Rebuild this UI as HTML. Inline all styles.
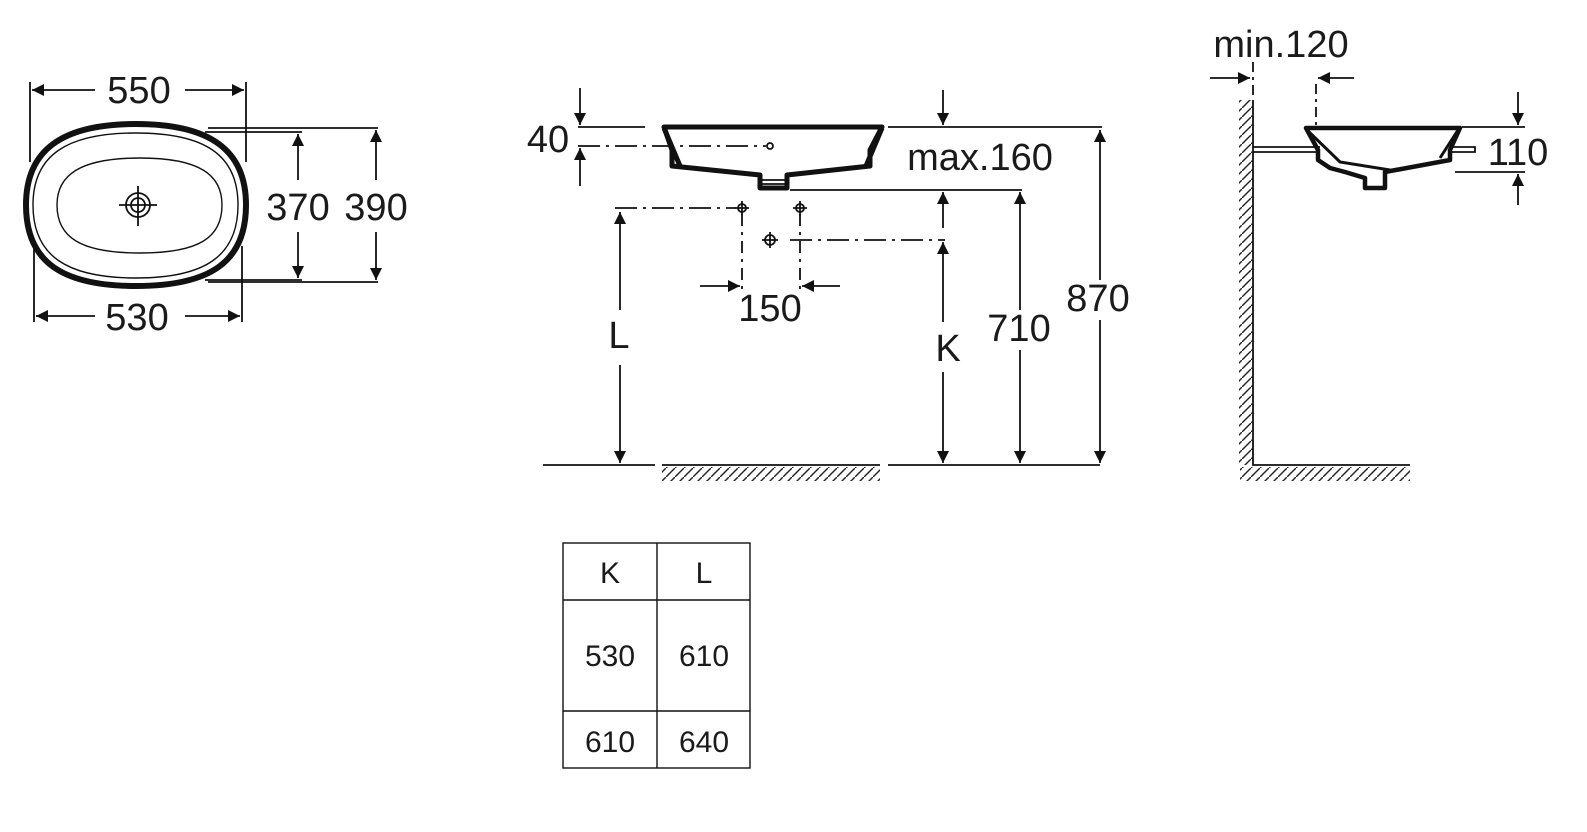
<!DOCTYPE html>
<html><head><style>
html,body{margin:0;padding:0;background:#fff}
svg{display:block}
text{font-family:"Liberation Sans",Arial,sans-serif;fill:#1a1a1a}
</style></head><body>
<svg width="1587" height="832" viewBox="0 0 1587 832" xmlns="http://www.w3.org/2000/svg">
<defs>
<marker id="a" viewBox="0 0 10 10" refX="10" refY="5" markerWidth="20" markerHeight="12" markerUnits="userSpaceOnUse" orient="auto"><path d="M0,0L10,5L0,10z" fill="#111"/></marker>
<pattern id="h" width="9" height="9" patternUnits="userSpaceOnUse"><path d="M0,9L9,0" stroke="#222" stroke-width="1.4"/></pattern>
</defs>
<g stroke="#111" fill="none" stroke-width="1.8">
<!-- top view -->
<path d="M136,124 C210,124 246,150 246,205 C246,262 210,286 136,286 C62,286 26,262 26,205 C26,150 62,124 136,124Z" stroke-width="6"/>
<path d="M136,133 C205,133 238,155 238,205 C238,256 205,278 136,278 C67,278 33,256 33,205 C33,155 67,133 136,133Z" stroke-width="1.4"/>
<path d="M140,158 C200,158 222,175 222,205 C222,237 200,253 140,253 C80,253 57,237 57,205 C57,175 80,158 140,158Z" stroke-width="1.4"/>
<circle cx="138" cy="205" r="12"/><circle cx="138" cy="205" r="7"/>
<path d="M119,205H157M138,186V226"/>
<path d="M30,82V162M246,82V162M34,246V322M242,246V322"/>
<path d="M95,90H32" marker-end="url(#a)"/><path d="M185,90H244" marker-end="url(#a)"/>
<path d="M95,316H36" marker-end="url(#a)"/><path d="M185,316H240" marker-end="url(#a)"/>
<path d="M208,128H378M208,282H378M205,132H302M205,280H302"/>
<path d="M298,180V134" marker-end="url(#a)"/><path d="M298,232V278" marker-end="url(#a)"/>
<path d="M376,180V130" marker-end="url(#a)"/><path d="M376,232V280" marker-end="url(#a)"/>
<!-- front view -->
<path d="M578,127H645M888,127H1102M790,190H1022"/>
<path d="M580,88V125" marker-end="url(#a)"/><path d="M580,186V148" marker-end="url(#a)"/>
<path d="M578,146H766" stroke-dasharray="22,6,3,6"/><circle cx="770" cy="146" r="3"/>
<path d="M664,127H882L870,150V166L787,175V188H760V175L672,166V150Z" stroke-width="5" stroke-linejoin="round"/>
<path d="M664,128L680,166M882,128L866,166" stroke-width="5"/>
<path d="M762,180H786M762,184H786"/>
<path d="M943,90V125" marker-end="url(#a)"/>
<path d="M1100,280V130" marker-end="url(#a)"/><path d="M1100,320V463" marker-end="url(#a)"/>
<path d="M1020,310V192" marker-end="url(#a)"/><path d="M1020,350V463" marker-end="url(#a)"/>
<path d="M943,228V192" marker-end="url(#a)"/><path d="M943,322V242" marker-end="url(#a)"/><path d="M943,372V463" marker-end="url(#a)"/>
<path d="M790,240H945M615,208H736" stroke-dasharray="22,6,3,6"/>
<path d="M742,214V290M800,214V290" stroke-dasharray="12,6,3,6"/>
<circle cx="742" cy="208" r="4"/><path d="M735,208H749M742,201V215"/>
<circle cx="800" cy="208" r="4"/><path d="M793,208H807M800,201V215"/>
<circle cx="770" cy="240" r="5"/><path d="M762,240H778M770,232V248"/>
<path d="M620,310V212" marker-end="url(#a)"/><path d="M620,365V463" marker-end="url(#a)"/>
<path d="M700,286H740" marker-end="url(#a)"/><path d="M840,286H802" marker-end="url(#a)"/>
<path d="M543,465H655M662,465H880M888,465H1100"/>
<!-- side view -->
<path d="M1253,100V465H1410"/>
<path d="M1210,78H1250" marker-end="url(#a)"/>
<path d="M1354,78H1318" marker-end="url(#a)"/>
<path d="M1253,62V96M1316,84V130" stroke-dasharray="10,5,3,5"/>
<path d="M1253,147H1320M1253,152H1318M1450,147H1475V152H1450"/>
<path d="M1306,128H1460L1450,150V160L1385,172V188H1365V178L1345,172L1330,168L1318,160V150Z" stroke-width="4.5" stroke-linejoin="round"/>
<path d="M1307,130L1340,162L1390,170M1458,130L1440,158" stroke-width="3"/>
<path d="M1462,127H1525M1455,172H1525"/>
<path d="M1518,92V125" marker-end="url(#a)"/><path d="M1518,205V174" marker-end="url(#a)"/>
<!-- table -->
<rect x="563" y="543" width="187" height="225" stroke-width="1.4"/>
<path d="M657,543V768M563,600H750M563,711H750" stroke-width="1.4"/>
</g>
<rect x="662" y="467" width="218" height="14" fill="url(#h)"/>
<rect x="1239" y="100" width="14" height="365" fill="url(#h)"/>
<rect x="1240" y="467" width="170" height="14" fill="url(#h)"/>
<g font-size="38" text-anchor="middle">
<text x="139" y="103">550</text>
<text x="137" y="330">530</text>
<text x="298" y="220">370</text>
<text x="376" y="220">390</text>
<text x="548" y="152">40</text>
<text x="980" y="170">max.160</text>
<text x="1098" y="311">870</text>
<text x="1019" y="341">710</text>
<text x="948" y="361">K</text>
<text x="619" y="348">L</text>
<text x="770" y="321">150</text>
<text x="1281" y="57">min.120</text>
<text x="1518" y="165">110</text>
</g>
<g font-size="30" text-anchor="middle">
<text x="610" y="583">K</text><text x="704" y="583">L</text>
<text x="610" y="666">530</text><text x="704" y="666">610</text>
<text x="610" y="752">610</text><text x="704" y="752">640</text>
</g>
</svg>
</body></html>
